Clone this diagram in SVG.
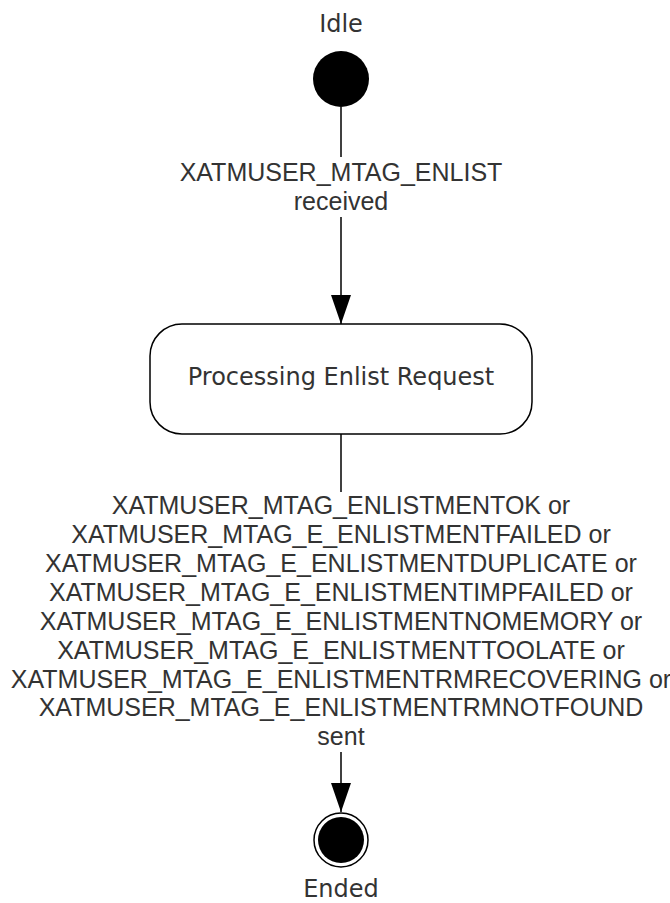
<svg xmlns="http://www.w3.org/2000/svg" width="670" height="903" viewBox="0 0 670 903">
<defs>
<style>
.lbl{font-family:"Liberation Sans",Arial,sans-serif;font-size:25px;fill:#333;text-anchor:middle}
.nt{font-family:"DejaVu Sans",Verdana,sans-serif;font-size:24px;fill:#333;text-anchor:middle}
.ln{stroke:#000;stroke-width:1.5;fill:none}
</style>
<marker id="arr" markerWidth="29" markerHeight="20" refX="29" refY="10" orient="auto" markerUnits="userSpaceOnUse" viewBox="0 0 29 20">
<path d="M0,0 L29,10 L0,20 Z" fill="#000"/>
</marker>
</defs>
<rect width="670" height="903" fill="#fff"/>
<g id="idle">
<text class="nt" x="341" y="32">Idle</text>
<circle cx="341" cy="79" r="28" fill="#000"/>
</g>
<g id="processing">
<rect x="150" y="324" width="382" height="110" rx="32" fill="#fff" stroke="#000" stroke-width="1.5"/>
<text class="nt" x="341" y="385">Processing Enlist Request</text>
</g>
<g id="ended">
<circle cx="341" cy="840" r="27" fill="#fff" stroke="#000" stroke-width="1.5"/>
<circle cx="341" cy="840" r="23" fill="#000"/>
<text class="nt" x="341" y="897">Ended</text>
</g>
<g id="connectors">
<path class="ln" d="M341,107 V157"/>
<path class="ln" d="M341,217 V324" marker-end="url(#arr)"/>
<text class="lbl" x="341" y="181">XATMUSER_MTAG_ENLIST</text>
<text class="lbl" x="341" y="210">received</text>
<path class="ln" d="M341,434 V492"/>
<path class="ln" d="M341,752 V812" marker-end="url(#arr)"/>
<text class="lbl" x="341" y="514">XATMUSER_MTAG_ENLISTMENTOK or</text>
<text class="lbl" x="341" y="543">XATMUSER_MTAG_E_ENLISTMENTFAILED or</text>
<text class="lbl" x="341" y="572">XATMUSER_MTAG_E_ENLISTMENTDUPLICATE or</text>
<text class="lbl" x="341" y="601">XATMUSER_MTAG_E_ENLISTMENTIMPFAILED or</text>
<text class="lbl" x="341" y="630">XATMUSER_MTAG_E_ENLISTMENTNOMEMORY or</text>
<text class="lbl" x="341" y="659">XATMUSER_MTAG_E_ENLISTMENTTOOLATE or</text>
<text class="lbl" x="341" y="688">XATMUSER_MTAG_E_ENLISTMENTRMRECOVERING or</text>
<text class="lbl" x="341" y="716">XATMUSER_MTAG_E_ENLISTMENTRMNOTFOUND</text>
<text class="lbl" x="341" y="745">sent</text>
</g>
</svg>
